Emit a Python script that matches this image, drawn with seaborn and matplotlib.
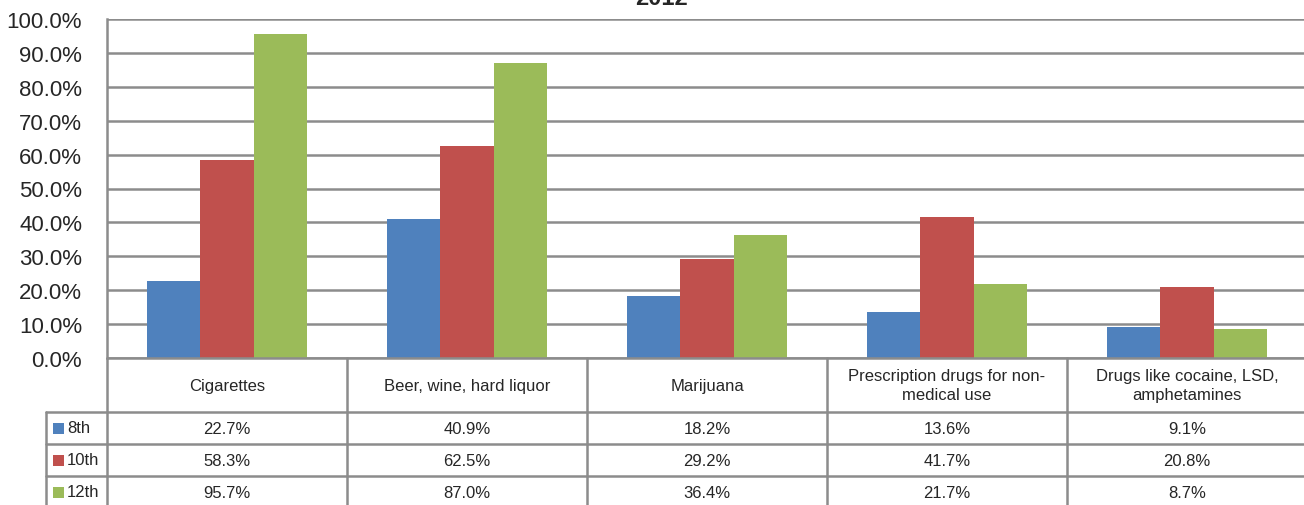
import matplotlib
matplotlib.use("Agg")
import matplotlib.pyplot as plt
import seaborn as sns
import pandas as pd
from matplotlib.patches import Rectangle

categories = ["Cigarettes", "Beer, wine, hard liquor", "Marijuana",
              "Prescription drugs for non-\nmedical use",
              "Drugs like cocaine, LSD,\namphetamines"]
grades = ["8th", "10th", "12th"]
vals_8th = [22.7, 40.9, 18.2, 13.6, 9.1]
vals_10th = [58.3, 62.5, 29.2, 41.7, 20.8]
vals_12th = [95.7, 87.0, 36.4, 21.7, 8.7]
colors = ["#4F81BD", "#C0504D", "#9BBB59"]
title = "2012"

series = [vals_8th, vals_10th, vals_12th]
rows = []
for g, vals in zip(grades, series):
    for c, v in zip(categories, vals):
        rows.append({"category": c, "grade": g, "value": v})
df = pd.DataFrame(rows)

sns.set_theme(style="white")
FONT = ["Liberation Sans Narrow", "Liberation Sans", "DejaVu Sans"]
plt.rcParams["font.family"] = FONT

W, H = 1304, 506
fig = plt.figure(figsize=(W / 100, H / 100), dpi=100)
ax_left, ax_right, ax_top, ax_bot = 107, 1307, 20, 359
ax = fig.add_axes([ax_left / W, 1 - ax_bot / H, (ax_right - ax_left) / W, (ax_bot - ax_top) / H])

sns.barplot(data=df, x="category", y="value", hue="grade", hue_order=grades,
            order=categories, palette=colors, saturation=1, width=0.667,
            ax=ax, legend=False, linewidth=0)

grid_c = "#8c8c8c"
ax.set_ylim(0, 100)
ax.set_xlim(-0.5, len(categories) - 0.5)
ax.set_yticks(range(0, 101, 10))
ax.set_yticklabels([f"{t:.1f}%" for t in range(0, 101, 10)], fontsize=16)
ax.tick_params(axis="y", length=0, pad=18)
ax.set_xticks([])
ax.set_xlabel("")
ax.set_ylabel("")
ax.yaxis.grid(True, color=grid_c, linewidth=1.8)
ax.set_axisbelow(True)
for s in ["top", "right", "bottom"]:
    ax.spines[s].set_visible(False)
ax.spines["left"].set_color(grid_c)
ax.spines["left"].set_linewidth(1.8)

fig.text(662 / W, 1 - 10 / H, title, ha="center", va="bottom",
         fontsize=17, fontweight="bold", family=FONT)

# --- data table drawn below the axes ---
px_per_cat = (ax_right - ax_left) / len(categories)
ph = ax_bot - ax_top
tr = ax.get_xaxis_transform()

def yax(ypix):
    return (ax_bot - ypix) / ph

TFS = 12
label_left = -0.5 - (ax_left - 46) / px_per_cat
row_edges = [359, 413, 445, 477, 509]
line_kw = dict(color=grid_c, linewidth=1.8, transform=tr, clip_on=False)

# horizontal lines
ax.plot([-0.5, len(categories) - 0.5 + 0.1], [yax(359)] * 2, **line_kw)
for y in row_edges[1:4]:
    ax.plot([label_left, len(categories) - 0.5 + 0.1], [yax(y)] * 2, **line_kw)
# vertical lines
ax.plot([-0.5, -0.5], [yax(359), yax(509)], **line_kw)
ax.plot([label_left, label_left], [yax(413), yax(509)], **line_kw)
for i in range(1, len(categories)):
    ax.plot([i - 0.5, i - 0.5], [yax(359), yax(509)], **line_kw)

# header
for i, c in enumerate(categories):
    ax.text(i, yax((359 + 413) / 2), c, ha="center", va="center",
            fontsize=TFS, transform=tr, linespacing=1.4, family=FONT)

# rows
for r, (g, vals, col) in enumerate(zip(grades, series, colors)):
    yc = yax((row_edges[r + 1] + row_edges[r + 2]) / 2)
    for i, v in enumerate(vals):
        ax.text(i, yc, f"{v:.1f}%", ha="center", va="center",
                fontsize=TFS, transform=tr, family=FONT)
    sq = 11
    fx0 = 53 / W
    fy0 = 1 - ((row_edges[r + 1] + row_edges[r + 2]) / 2 + sq / 2) / H
    fig.patches.append(Rectangle((fx0, fy0), sq / W, sq / H, transform=fig.transFigure,
                                 facecolor=col, edgecolor="none"))
    fig.text(67 / W, 1 - ((row_edges[r + 1] + row_edges[r + 2]) / 2) / H, g,
             ha="left", va="center", fontsize=TFS, family=FONT)

fig.savefig("out.png", dpi=100)
